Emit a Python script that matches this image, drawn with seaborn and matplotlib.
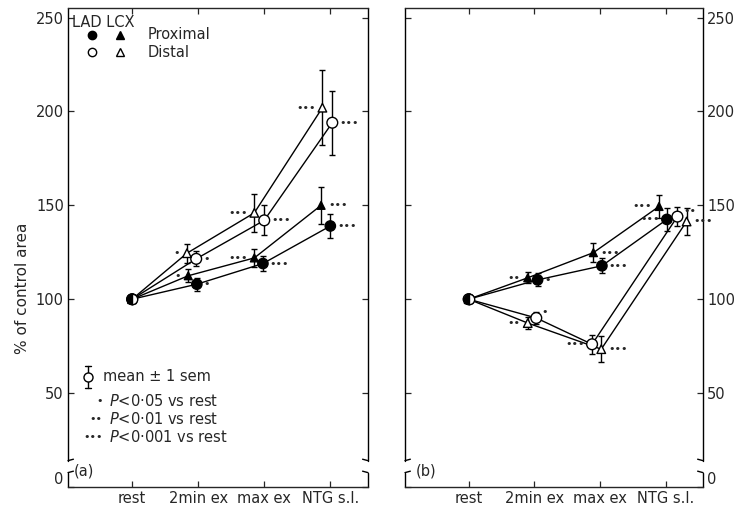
import numpy as np
import pandas as pd
import matplotlib
matplotlib.use("Agg")
import matplotlib.pyplot as plt
import seaborn as sns

stages = ['rest', '2min ex', 'max ex', 'NTG s.l.']
series = ['LAD prox', 'LAD dist', 'LCX prox', 'LCX dist']

# panel (a): % of control area, mean and sem
a_lad_prox = [100, 108, 119, 139]
a_lad_prox_sem = [0, 3.5, 4, 6.5]
a_lad_dist = [100, 121.5, 142, 194]
a_lad_dist_sem = [0, 4, 8, 17]
a_lcx_prox = [100, 112.5, 122, 150]
a_lcx_prox_sem = [0, 3.5, 5, 10]
a_lcx_dist = [100, 124.5, 146, 202]
a_lcx_dist_sem = [0, 5, 10, 20]

# panel (b)
b_lad_prox = [100, 110.3, 117.8, 142.5]
b_lad_prox_sem = [0, 3.5, 4, 6]
b_lad_dist = [100, 90, 76, 144]
b_lad_dist_sem = [0, 3, 5, 5]
b_lcx_prox = [100, 111.4, 124.8, 149.4]
b_lcx_prox_sem = [0, 3, 5, 6]
b_lcx_dist = [100, 87.3, 73.4, 141.4]
b_lcx_dist_sem = [0, 3, 7, 7]

# significance vs rest: 1 = P<0.05, 2 = P<0.01, 3 = P<0.001
a_lad_prox_sig = [0, 1, 3, 3]
a_lad_dist_sig = [0, 1, 3, 3]
a_lcx_prox_sig = [0, 1, 3, 3]
a_lcx_dist_sig = [0, 1, 3, 3]
b_lad_prox_sig = [0, 1, 3, 3]
b_lad_dist_sig = [0, 1, 3, 2]
b_lcx_prox_sig = [0, 2, 3, 3]
b_lcx_dist_sig = [0, 2, 3, 3]

values = {
    'a': {'LAD prox': (a_lad_prox, a_lad_prox_sem, a_lad_prox_sig),
          'LAD dist': (a_lad_dist, a_lad_dist_sem, a_lad_dist_sig),
          'LCX prox': (a_lcx_prox, a_lcx_prox_sem, a_lcx_prox_sig),
          'LCX dist': (a_lcx_dist, a_lcx_dist_sem, a_lcx_dist_sig)},
    'b': {'LAD prox': (b_lad_prox, b_lad_prox_sem, b_lad_prox_sig),
          'LAD dist': (b_lad_dist, b_lad_dist_sem, b_lad_dist_sig),
          'LCX prox': (b_lcx_prox, b_lcx_prox_sem, b_lcx_prox_sig),
          'LCX dist': (b_lcx_dist, b_lcx_dist_sem, b_lcx_dist_sig)},
}

# horizontal nudges so the symbols don't sit on top of each other
nudge = {
    'a': {'LAD prox': [0, -0.02, -0.02, 0.0],
          'LAD dist': [0, -0.03, 0.0, 0.03],
          'LCX prox': [0, -0.15, -0.15, -0.14],
          'LCX dist': [0, -0.17, -0.15, -0.12]},
    'b': {'LAD prox': [0, 0.05, 0.03, 0.02],
          'LAD dist': [0, 0.03, -0.12, 0.18],
          'LCX prox': [0, -0.1, -0.1, -0.1],
          'LCX dist': [0, -0.1, 0.02, 0.32]},
}
# which side the significance dots go
side = {
    'a': {'LAD prox': [None, 'r', 'r', 'r'],
          'LAD dist': [None, 'r', 'r', 'r'],
          'LCX prox': [None, 'l', 'l', 'r'],
          'LCX dist': [None, 'l', 'l', 'l']},
    'b': {'LAD prox': [None, 'r', 'r', 'l'],
          'LAD dist': [None, 'ur', 'l', 'ur'],
          'LCX prox': [None, 'l', 'r', 'l'],
          'LCX dist': [None, 'l', 'r', 'r']},
}

markers = {'LAD prox': 'o', 'LAD dist': 'o', 'LCX prox': '^', 'LCX dist': '^'}
faces = {'LAD prox': 'black', 'LAD dist': 'white', 'LCX prox': 'black', 'LCX dist': 'white'}
sizes = {'LAD prox': 55, 'LAD dist': 60, 'LCX prox': 32, 'LCX dist': 38}

rows = []
for panel in ['a', 'b']:
    for s in series:
        y, sem, sig = values[panel][s]
        for i in range(len(stages)):
            rows.append({'panel': panel, 'series': s, 'stage': i,
                         'xpos': i + nudge[panel][s][i], 'pct': y[i],
                         'err': sem[i], 'sig': sig[i], 'side': side[panel][s][i]})
df = pd.DataFrame(rows)

sns.set_style("white")
plt.rcParams['font.family'] = ['DejaVu Sans']
plt.rcParams['axes.linewidth'] = 1.0

fig = plt.figure(figsize=(7.49, 5.11), dpi=100)
ax_a = fig.add_axes([0.0908, 0.047, 0.4005, 0.937])
ax_b = fig.add_axes([0.5407, 0.047, 0.3979, 0.937])

offsets = {'r': (5, 0, 'left'), 'l': (-5, 0, 'right'), 'ur': (4, 4, 'left')}
DOT = 8

for panel, ax in [('a', ax_a), ('b', ax_b)]:
    sub = df[df['panel'] == panel]
    sns.lineplot(data=sub, x='xpos', y='pct', hue='series', units='series',
                 estimator=None, sort=False, palette={s: 'black' for s in series},
                 lw=1.0, legend=False, ax=ax, zorder=1)
    eb = sub[sub['err'] > 0]
    ax.errorbar(eb['xpos'], eb['pct'], yerr=eb['err'], fmt='none', ecolor='black',
                elinewidth=1.0, capsize=2, capthick=1.0, zorder=2)
    sns.scatterplot(data=sub, x='xpos', y='pct', hue='series', style='series',
                    size='series', palette=faces, markers=markers, sizes=sizes,
                    edgecolor='black', linewidth=1.0, legend=False, ax=ax, zorder=3)
    # half-filled symbol at rest, as in the original
    rest = sub[(sub['series'] == 'LAD prox') & (sub['stage'] == 0)]
    ax.plot(rest['xpos'], rest['pct'], marker='o', ms=7.5, mfc='black', mec='black',
            fillstyle='left', markerfacecoloralt='white', mew=1.0, ls='none', zorder=4)

    for _, r in sub[sub['sig'] > 0].iterrows():
        dx, dy, ha = offsets[r['side']]
        ax.annotate('•' * int(r['sig']), (r['xpos'], r['pct']), xytext=(dx, dy),
                    textcoords='offset points', ha=ha, va='center',
                    fontsize=DOT, zorder=5)

    ax.set_xlim(-0.97, 3.57)
    ax.set_ylim(0, 255)
    ax.set_xticks(range(len(stages)))
    ax.set_xticklabels(stages)
    ax.set_yticks([0, 50, 100, 150, 200, 250])
    ax.set_xlabel('')
    ax.set_ylabel('')
    ax.tick_params(direction='in', top=True, right=True, left=True, bottom=True,
                   length=4, width=0.9, labelsize=10.5, pad=3)
    if panel == 'b':
        ax.tick_params(labelleft=False, labelright=True)
    for lab in ax.get_yticklabels():
        if lab.get_text() == '0':
            lab.set_va('bottom')

    # broken vertical axes
    ax.spines['left'].set_visible(False)
    ax.spines['right'].set_visible(False)
    for xs, inward in [(0, 1), (1, -1)]:
        ax.plot([xs, xs], [0.055, 1], transform=ax.transAxes, color='black',
                lw=1.0, clip_on=False)
        ax.plot([xs, xs + inward * 0.018], [0.055, 0.058], transform=ax.transAxes,
                color='black', lw=1.0, clip_on=False)
        ax.plot([xs, xs], [0, 0.03], transform=ax.transAxes, color='black',
                lw=1.0, clip_on=False)
        ax.plot([xs, xs + inward * 0.018], [0.03, 0.033], transform=ax.transAxes,
                color='black', lw=1.0, clip_on=False)

    ax.text(0.02 if panel == 'a' else 0.035, 0.033, '(%s)' % panel,
            transform=ax.transAxes, fontsize=10.5, va='center', ha='left')

# symbol key, top left of (a)
ax_a.text(0.013, 0.971, 'LAD LCX', transform=ax_a.transAxes, fontsize=10.5,
          va='center', ha='left')
for yk, face, lab in [(0.944, 'black', 'Proximal'), (0.908, 'white', 'Distal')]:
    ax_a.plot([0.08], [yk], marker='o', ms=6, mfc=face, mec='black', mew=1.0,
              transform=ax_a.transAxes, ls='none')
    ax_a.plot([0.173], [yk], marker='^', ms=5.5, mfc=face, mec='black', mew=1.0,
              transform=ax_a.transAxes, ls='none')
    ax_a.text(0.267, yk, lab, transform=ax_a.transAxes, fontsize=10.5,
              va='center', ha='left')

# mean +/- sem and significance key, bottom left of (a)
ax_a.plot([0.067, 0.067], [0.207, 0.253], transform=ax_a.transAxes, color='black', lw=1.0)
for yc in [0.207, 0.253]:
    ax_a.plot([0.058, 0.076], [yc, yc], transform=ax_a.transAxes, color='black', lw=1.0)
ax_a.plot([0.067], [0.23], marker='o', ms=6.5, mfc='white', mec='black', mew=1.0,
          transform=ax_a.transAxes, ls='none')
ax_a.text(0.117, 0.23, 'mean ± 1 sem', transform=ax_a.transAxes, fontsize=10.5,
          va='center', ha='left')
for n, (yk, lab) in enumerate([(0.18, '<0·05 vs rest'), (0.142, '<0·01 vs rest'),
                               (0.104, '<0·001 vs rest')], start=1):
    ax_a.text(0.115, yk, '•' * n, transform=ax_a.transAxes, fontsize=DOT,
              va='center', ha='right')
    ax_a.text(0.137, yk, '$P$' + lab, transform=ax_a.transAxes, fontsize=10.5,
              va='center', ha='left')

fig.text(0.03, 0.436, '% of control area', rotation=90, fontsize=11,
         va='center', ha='center')

fig.savefig('out.png', dpi=100)
